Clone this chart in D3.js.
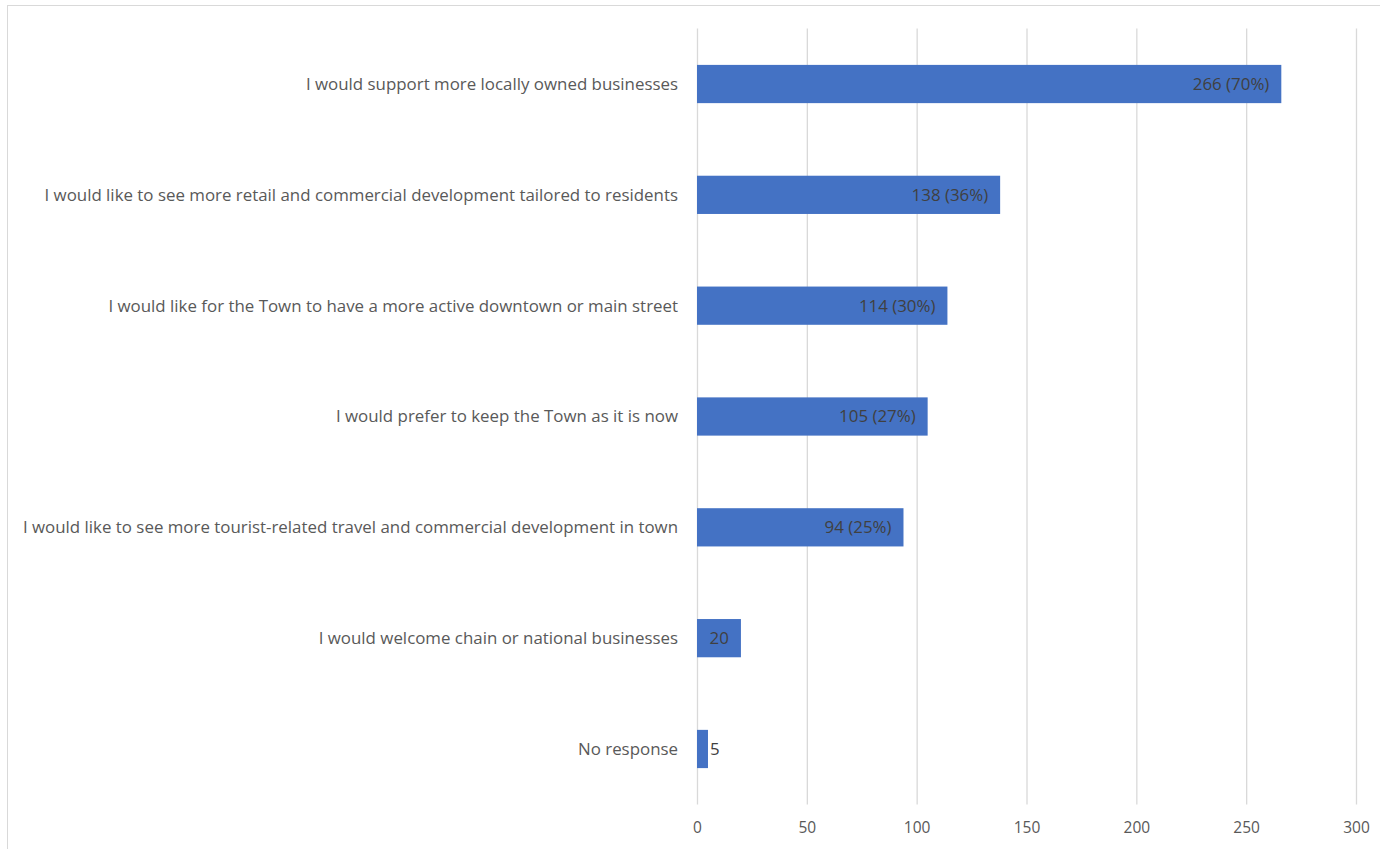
<!DOCTYPE html>
<html><head><meta charset="utf-8">
<script src="https://cdn.jsdelivr.net/npm/d3@7"></script>
<style>body{margin:0;background:#fff;} svg{display:block;}</style>
</head><body>
<svg id="chart" width="1380" height="849"></svg>
<script>
const categories = [
  "I would support more locally owned businesses",
  "I would like to see more retail and commercial development tailored to residents",
  "I would like for the Town to have a more active downtown or main street",
  "I would prefer to keep the Town as it is now",
  "I would like to see more tourist-related travel and commercial development in town",
  "I would welcome chain or national businesses",
  "No response"
];
const counts = [266, 138, 114, 105, 94, 20, 5];
const labels = ["266 (70%)", "138 (36%)", "114 (30%)", "105 (27%)", "94 (25%)", "20", "5"];
const ticks = [0, 50, 100, 150, 200, 250, 300];

const svg = d3.select("#chart");
const font = "'Open Sans', sans-serif";
const plot = {left: 697, right: 1356, top: 28.6, bottom: 804.4};

svg.append("rect").attr("x", 7.5).attr("y", 5.5).attr("width", 1400).attr("height", 900)
  .attr("fill", "#fff").attr("stroke", "#d9d9d9").attr("stroke-width", 1);

const x = d3.scaleLinear().domain([0, 300]).range([plot.left, plot.right]);
const y = d3.scaleBand().domain(categories).range([plot.top, plot.bottom]).paddingInner(0.655).paddingOuter(0.3275);

const xAxis = d3.axisBottom(x).tickValues(ticks).tickSize(plot.bottom - plot.top).tickSizeOuter(0);
const gx = svg.append("g").attr("transform", `translate(0,${plot.top})`).call(xAxis);
gx.select(".domain").remove();
gx.selectAll(".tick line").attr("stroke", "#d9d9d9").attr("stroke-width", 1.3);
gx.selectAll(".tick text").attr("fill", "#595959").attr("font-family", font).attr("font-size", 15.5)
  .attr("y", plot.bottom - plot.top + 18).attr("dy", "0.71em");

const yAxis = d3.axisLeft(y).tickSize(0);
const gy = svg.append("g").attr("transform", `translate(${plot.left},0)`).call(yAxis);
gy.select(".domain").remove();
const catText = gy.selectAll(".tick text").attr("fill", "#595959").attr("font-family", font).attr("font-size", 16)
  .attr("x", -19).attr("dy", "0.35em");
// fit font size so the longest label spans the same width as in the source
const maxW = d3.max(catText.nodes(), n => n.getComputedTextLength());
const catSize = 16 * 656 / maxW;
catText.attr("font-size", catSize);

const data = categories.map((c, i) => ({c, v: counts[i], l: labels[i]}));

svg.append("g").selectAll("rect").data(data).join("rect")
  .attr("x", x(0)).attr("y", d => y(d.c)).attr("width", d => x(d.v) - x(0))
  .attr("height", y.bandwidth()).attr("fill", "#4472c4");

svg.append("g").selectAll("text").data(data).join("text")
  .attr("x", d => d.v < 10 ? x(d.v) + 2 : x(d.v) - 12)
  .attr("y", d => y(d.c) + y.bandwidth() / 2).attr("dy", "0.35em")
  .attr("text-anchor", d => d.v < 10 ? "start" : "end")
  .attr("fill", "#404040").attr("font-family", font).attr("font-size", catSize)
  .text(d => d.l);
</script>
</body></html>
